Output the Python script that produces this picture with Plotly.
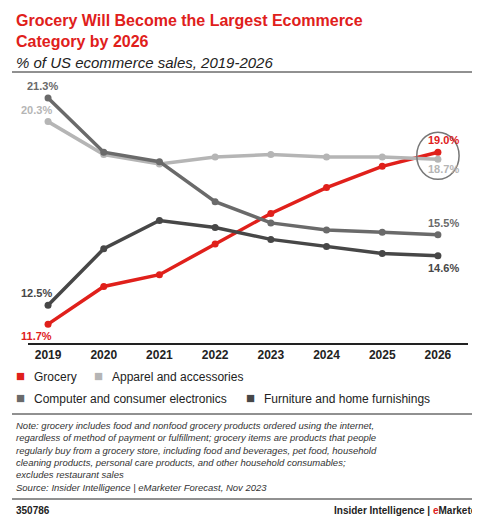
import plotly.graph_objects as go

years = ["2019","2020","2021","2022","2023","2024","2025","2026"]
grocery = [11.7,13.3,13.8,15.1,16.4,17.5,18.4,19.0]
apparel = [20.3,18.9,18.5,18.8,18.9,18.8,18.8,18.7]
computer = [21.3,19.0,18.6,16.9,16.0,15.7,15.6,15.5]
furniture = [12.5,14.9,16.1,15.8,15.3,15.0,14.7,14.6]
names = ["Grocery","Apparel and accessories","Computer and consumer electronics","Furniture and home furnishings"]
colors = ["#e0201b","#b5b5b5","#6a6a6a","#474747"]
series = [grocery, apparel, computer, furniture]

W, H, L, R, T, B = 480, 518, 20, 20, 75, 183
PW, PH = W - L - R, H - T - B

fig = go.Figure()
for s, n, c in zip(series, names, colors):
    fig.add_trace(go.Scatter(x=list(range(len(years))), y=s, name=n, mode="lines+markers",
                             line=dict(color=c, width=3.5), marker=dict(color=c, size=7), showlegend=False))

F = "Liberation Sans, Arial, sans-serif"
def lab(i, v, c, dx, dy):
    fig.add_annotation(x=i, y=v[i], xref="x", yref="y", text=f"<b>{v[i]:.1f}%</b>", showarrow=False,
                       xshift=dx, yshift=dy, font=dict(size=11, color=c, family=F))
lab(0, computer, colors[2], -6, 12)
lab(0, apparel, colors[1], -12, 12)
lab(0, furniture, colors[3], -12, 12)
lab(0, grocery, colors[0], -12, -12)
lab(7, grocery, colors[0], 6, 12)
lab(7, apparel, colors[1], 6, -10)
lab(7, computer, colors[2], 6, 12)
lab(7, furniture, colors[3], 6, -12)

def px(x): return (x - L) / PW
def py(y): return (H - B - y) / PH

def pa(x, y, text, size, color="#222", bold=False, italic=False):
    t = text
    if bold: t = f"<b>{t}</b>"
    if italic: t = f"<i>{t}</i>"
    fig.add_annotation(x=px(x), y=py(y), xref="paper", yref="paper", xanchor="left", yanchor="top",
                       showarrow=False, text=t, align="left", font=dict(size=size, color=color, family=F))

pa(6, 2, "Grocery Will Become the Largest Ecommerce<br>Category by 2026", 16, "#e0201b", bold=True)
pa(6, 44, "% of US ecommerce sales, 2019-2026", 15, "#222", italic=True)
legend = [(6, 360, 0), (84, 360, 1), (6, 382, 2), (236, 382, 3)]
for x, y, k in legend:
    pa(x, y - 3, "■", 15, colors[k])
    pa(x + 18, y, names[k], 12, "#222")
pa(6, 410, "Note: grocery includes food and nonfood grocery products ordered using the internet,<br>"
    "regardless of method of payment or fulfillment; grocery items are products that people<br>"
    "regularly buy from a grocery store, including food and beverages, pet food, household<br>"
    "cleaning products, personal care products, and other household consumables;<br>"
    "excludes restaurant sales<br>Source: Insider Intelligence | eMarketer Forecast, Nov 2023", 9.5, "#333", italic=True)
pa(6, 495, "350786", 10, "#222", bold=True)
fig.add_annotation(x=px(474), y=py(495), xref="paper", yref="paper", xanchor="right", yanchor="top",
                   showarrow=False, text="<b>Insider Intelligence | <span style='color:#e0201b'>e</span>Marketer</b>",
                   font=dict(size=10, color="#222", family=F))

for y in [64, 406, 491]:
    fig.add_shape(type="line", xref="paper", yref="paper", x0=px(4), x1=px(476), y0=py(y), y1=py(y),
                  line=dict(color="#222", width=1))
fig.add_shape(type="circle", xref="x", yref="y", x0=6.62, x1=7.38, y0=17.85, y1=19.85,
              line=dict(color="#777", width=1.5))

fig.update_layout(
    width=W, height=H, margin=dict(l=L, r=R, t=T, b=B),
    plot_bgcolor="white", paper_bgcolor="white",
    xaxis=dict(range=[-0.36, 7.54], tickmode="array", tickvals=list(range(8)), ticktext=[f"<b>{y}</b>" for y in years],
               showgrid=False, showline=True, linecolor="#222", linewidth=1.5, zeroline=False,
               tickfont=dict(size=12, color="#222", family=F)),
    yaxis=dict(range=[10.9, 21.94], visible=False),
)
fig.write_html("out.html")
